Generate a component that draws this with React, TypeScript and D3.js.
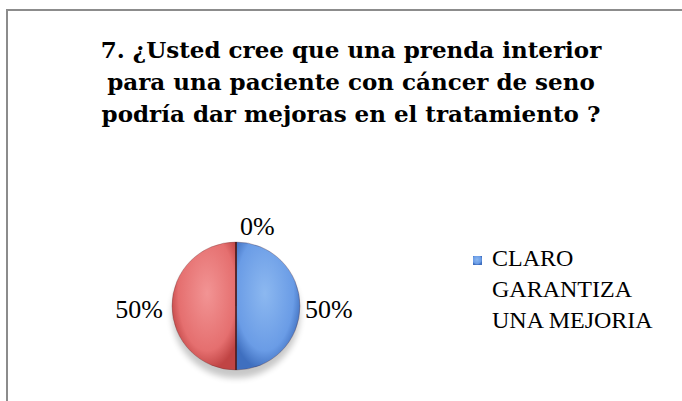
import React from "react";
import * as d3 from "d3";

const titleLines = [
  "7. ¿Usted cree que una prenda interior",
  "para una paciente con cáncer de seno",
  "podría dar mejoras en el tratamiento ?",
];
const categories = ["CLARO GARANTIZA UNA MEJORIA", "NO", "NO SABE"];
const values = [50, 50, 0];
const legendLines = ["CLARO", "GARANTIZA", "UNA MEJORIA"];

const W = 682;
const H = 401;
const cx = 236;
const cy = 306;
const R = 64;

export default function App() {
  const pie = d3.pie<number>().sort(null).value((d) => d);
  const arcs = pie(values);
  const arc = d3.arc<d3.PieArcDatum<number>>().innerRadius(0).outerRadius(R);
  const total = d3.sum(values);
  const fills = ["url(#gBlue)", "url(#gRed)", "url(#gGreen)"];
  const font = "'Liberation Serif', serif";
  const titleFont = "'DejaVu Serif', serif";

  return (
    <svg width={W} height={H} style={{ position: "absolute", left: 0, top: 0, background: "#fff" }}>
      <defs>
        <radialGradient id="gBlue" cx="45%" cy="40%" r="60%">
          <stop offset="0%" stopColor="#8cb8f0" />
          <stop offset="75%" stopColor="#6a9ce6" />
          <stop offset="100%" stopColor="#3f6fbf" />
        </radialGradient>
        <radialGradient id="gRed" cx="55%" cy="40%" r="60%">
          <stop offset="0%" stopColor="#f29494" />
          <stop offset="75%" stopColor="#e56f6f" />
          <stop offset="100%" stopColor="#c04444" />
        </radialGradient>
        <radialGradient id="gGreen" cx="50%" cy="40%" r="60%">
          <stop offset="0%" stopColor="#b8d88a" />
          <stop offset="100%" stopColor="#8aaa50" />
        </radialGradient>
        <filter id="shadow" x="-30%" y="-30%" width="160%" height="170%">
          <feGaussianBlur stdDeviation="3" />
        </filter>
      </defs>
      <rect x={7} y={10} width={W + 20} height={H + 20} fill="none" stroke="#8c8c8c" strokeWidth={2} />
      <g fontFamily={titleFont} fontWeight="bold" fontSize={23} fill="#000" textAnchor="middle">
        {titleLines.map((t, i) => (
          <text key={i} x={351} y={58 + i * 32}>
            {t}
          </text>
        ))}
      </g>
      <g transform={`translate(${cx},${cy})`}>
        <ellipse cx={0} cy={8} rx={R} ry={R} fill="#000" opacity={0.22} filter="url(#shadow)" />
        {arcs.map((a, i) => (
          <path key={i} d={arc(a) || ""} fill={fills[i]} stroke="#5a2a2a" strokeWidth={0.6} strokeOpacity={0.5} />
        ))}
        <line x1={0} y1={-R} x2={0} y2={R} stroke="#4a1a1a" strokeWidth={1.5} />
        {arcs.map((a, i) => {
          const mid = (a.startAngle + a.endAngle) / 2;
          const s = Math.sin(mid);
          const c = -Math.cos(mid);
          const pct = Math.round((values[i] / total) * 100) + "%";
          let x: number, y: number, anchor: string;
          if (Math.abs(s) < 0.3) {
            x = 4;
            y = c < 0 ? -R - 7 : R + 24;
            anchor = "start";
          } else if (s > 0) {
            x = s * (R + 5);
            y = c * (R + 5) + 12;
            anchor = "start";
          } else {
            x = s * (R + 9);
            y = c * (R + 9) + 12;
            anchor = "end";
          }
          return (
            <text key={i} x={x} y={y} fontFamily={font} fontSize={26} textAnchor={anchor}>
              {pct}
            </text>
          );
        })}
      </g>
      <rect x={473} y={256} width={9} height={9} fill="url(#gBlue)" />
      <g fontFamily={font} fontSize={24}>
        {legendLines.map((t, i) => (
          <text key={i} x={492} y={266 + i * 31}>
            {t}
          </text>
        ))}
      </g>
    </svg>
  );
}
